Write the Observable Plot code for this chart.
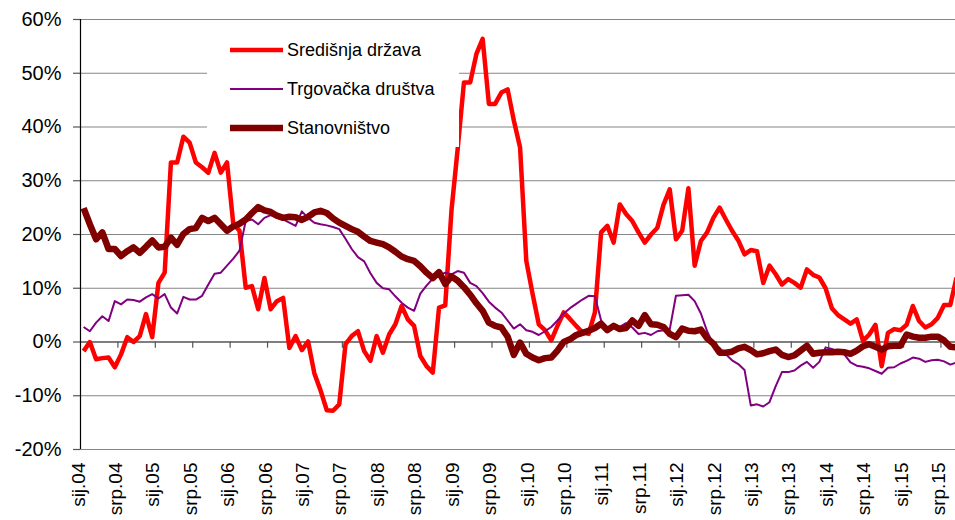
<!DOCTYPE html>
<html><head><meta charset="utf-8">
<script src="https://cdn.jsdelivr.net/npm/d3@7"></script>
<script src="https://cdn.jsdelivr.net/npm/@observablehq/plot@0.6"></script>
<style>
html,body{margin:0;padding:0;background:#fff;overflow:hidden;}
#chart{width:955px;height:520px;}
svg{font-family:"Liberation Sans", Arial, sans-serif;}
</style>
</head><body><div id="chart"></div>
<script>
const seriesNames = ["Središnja država", "Trgovačka društva", "Stanovništvo"];
const seriesColors = ["#FF0000", "#800080", "#800000"];
const seriesWidths = [4.5, 2, 6.5];

// monthly values, sij.04 (Jan 2004) ... ruj.15 (Sep 2015), in %
const sredisnjaDrzava = [
 -1.7, 0, -3.2, -3, -2.9, -4.7, -2.3, 0.9, 0, 1.1,
 5.2, 0.9, 11, 12.9, 33.4, 33.4, 38.2, 37.1, 33.4, 32.5,
 31.5, 35.2, 31.5, 33.4, 22, 20.7, 10.1, 10.4, 6.1, 11.9,
 6.1, 7.6, 8.2, -1.1, 1.1, -1.5, 0.1, -5.8, -9, -12.7,
 -12.8, -11.6, -0.4, 1.1, 2, -1.7, -3.5, 1.1, -2, 1.4,
 3.3, 6.7, 4.2, 3, -2.6, -4.5, -5.7, 6.4, 6.8, 24.5,
 36, 48.3, 48.3, 53.6, 56.4, 44.3, 44.3, 46.4, 47, 41.2,
 36.2, 15.1, 9, 3.3, 2.2, 0.3, 3, 5.5, 4.3, 3,
 1.8, 1.5, 5.5, 20.4, 21.6, 18.5, 25.6, 23.8, 22.5, 20.4,
 18.5, 20, 21.2, 25.5, 28.4, 19.1, 20.7, 28.6, 14.2, 18.8,
 20.4, 23.1, 25, 22.8, 20.7, 18.9, 16.3, 17.1, 16.9, 11,
 14.2, 12.6, 10.7, 11.7, 11, 10.1, 13.5, 12.5, 12, 10,
 6.3, 5, 4.2, 3.4, 4.2, 0.2, 1.4, 3.2, -4.5, 1.7,
 2.4, 2.2, 3.2, 6.7, 3.9, 2.7, 3.3, 4.5, 6.9, 6.9, 12
];
const trgovackaDrustva = [
 2.8, 2, 3.6, 4.8, 3.9, 7.6, 7, 7.9, 7.8, 7.5,
 8.3, 8.9, 8.1, 8.9, 6.4, 5.3, 8.4, 7.9, 7.9, 8.6,
 10.7, 12.7, 12.9, 14.2, 15.5, 17, 22.5, 22.8, 21.9, 23.1,
 23.6, 23.1, 22.8, 22.2, 21.6, 24.3, 23.1, 22.2, 21.9, 21.7,
 21.4, 21, 19.2, 17.3, 15.8, 15, 12.8, 11, 10, 9.8,
 8.5, 7.3, 6.4, 5.8, 9, 10.5, 11.8, 12.4, 12.9, 12.6,
 13.2, 12.9, 11, 10.4, 9.1, 7.5, 6.4, 5.5, 4, 2.5,
 3.3, 2.2, 1.9, 1.3, 2, 2.8, 4, 5.3, 6.3, 7.1,
 7.9, 8.6, 8.5, 4, 2.2, 2.6, 2.8, 3.5, 2.7, 1.5,
 1.7, 1.3, 2, 2.2, 2.3, 8.6, 8.7, 8.8, 7.6, 5.3,
 2, -0.5, -1.1, -2.3, -3.4, -4.1, -5.2, -11.8, -11.6, -12,
 -11.2, -8.2, -5.6, -5.6, -5.3, -4.4, -3.7, -4.8, -3.7, -1,
 -1.3, -1.9, -2.3, -3.8, -4.4, -4.6, -4.9, -5.4, -5.9, -4.8,
 -4.7, -4, -3.5, -2.9, -3.1, -3.7, -3.4, -3.3, -3.6, -4.2, -3.8
];
const stanovnistvo = [
 24.9, 21.9, 19.1, 20.4, 17.3, 17.3, 16, 16.9, 17.6, 16.6,
 17.7, 18.9, 17.6, 17.7, 19.4, 18.1, 20.1, 21, 21.2, 23.1,
 22.5, 23.1, 21.9, 20.7, 21.5, 22, 22.8, 24, 25.1, 24.5,
 24.2, 23.5, 23.1, 23.3, 23.2, 22.7, 23.3, 24.1, 24.4, 24,
 23, 22.2, 21.6, 21, 20.5, 19.6, 18.8, 18.5, 18.2, 17.6,
 16.8, 15.9, 15.4, 15.1, 14.1, 12.9, 11.9, 13, 10.8, 12.2,
 11.4, 10.2, 8.8, 7.2, 5.8, 3.6, 3, 2.7, 1, -2.4,
 -0.1, -2.2, -2.9, -3.4, -3, -2.9, -1.6, 0, 0.5, 1.3,
 1.7, 2.1, 2.6, 3.4, 2.2, 3, 2.4, 2.6, 4, 3,
 5, 3.3, 3.2, 2.8, 1.5, 0.9, 2.5, 2.1, 2, 2.3,
 0.7, -0.3, -2, -2, -1.8, -1.2, -0.9, -1.5, -2.3, -2.1,
 -1.7, -1.4, -2.4, -2.8, -2.5, -1.6, -0.7, -2.2, -2, -1.9,
 -1.9, -1.8, -1.9, -2.2, -1.6, -0.8, -0.4, -0.9, -1.4, -0.8,
 -0.7, -0.7, 1.4, 1, 0.8, 0.8, 1, 1, 0.3, -0.9, -1
];
const xTickLabels = [
 "sij.04","srp.04","sij.05","srp.05","sij.06","srp.06","sij.07","srp.07",
 "sij.08","srp.08","sij.09","srp.09","sij.10","srp.10","sij.11","srp.11",
 "sij.12","srp.12","sij.13","srp.13","sij.14","srp.14","sij.15","srp.15"
];
const yTicks = [-20, -10, 0, 10, 20, 30, 40, 50, 60];

const allSeries = [sredisnjaDrzava, trgovackaDrustva, stanovnistvo];
const N = sredisnjaDrzava.length;
const labelIdx = xTickLabels.map((_, k) => k * 6);
const tickIdx = d3.range(5.5, N, 6);

const lineMarks = allSeries.map((arr, s) =>
  Plot.line(arr, {x: (d, i) => i, y: d => d, stroke: seriesColors[s], strokeWidth: seriesWidths[s], strokeLinejoin: "round", strokeLinecap: "butt"})
);

const chart = Plot.plot({
  width: 955, height: 520,
  marginTop: 19, marginBottom: 71, marginLeft: 80, marginRight: 0,
  style: {fontFamily: '"Liberation Sans", Arial, sans-serif', background: "white", color: "black"},
  x: {domain: [-0.5, N - 0.5], range: [80, 80 + N * 6.235], axis: null},
  y: {domain: [-20, 60], range: [449, 19], axis: null},
  marks: [
    Plot.ruleY(yTicks.filter(d => d !== 0), {stroke: "#868686", strokeWidth: 1.2}),
    Plot.ruleY(yTicks, {x1: -1.62, x2: -0.5, stroke: "#555", strokeWidth: 1.2}),
    Plot.ruleY([0], {stroke: "black", strokeWidth: 1.2}),
    Plot.ruleX([-0.5], {stroke: "black", strokeWidth: 1.2}),
    Plot.ruleX(tickIdx, {y1: 0, y2: -1.15, stroke: "#555", strokeWidth: 1.2}),
    Plot.text(yTicks, {y: d => d, text: d => d + "%", frameAnchor: "left", textAnchor: "end", dx: -19, fontSize: 20, fill: "black"}),
    Plot.text(labelIdx, {x: d => d, text: (d, k) => xTickLabels[k], frameAnchor: "bottom", rotate: -90, textAnchor: "end", dy: 13, dx: 1, fontSize: 19, fill: "black"}),
    ...lineMarks
  ]
});
document.getElementById("chart").appendChild(chart);

// legend (inside the plot area, white box)
const svg = d3.select(chart);
const lg = svg.append("g").attr("class", "legend").attr("text-anchor", "start");
lg.append("rect").attr("x", 207).attr("y", 28).attr("width", 252).attr("height", 119).attr("fill", "white");
seriesNames.forEach((name, s) => {
  const yy = 50 + s * 39;
  lg.append("line").attr("x1", 230).attr("x2", 283).attr("y1", yy).attr("y2", yy)
    .attr("stroke", seriesColors[s]).attr("stroke-width", seriesWidths[s]);
  lg.append("text").attr("x", 287).attr("y", yy).attr("dy", "0.35em")
    .attr("text-anchor", "start")
    .attr("font-size", 18).attr("fill", "black").text(name);
});
</script>
</body></html>
